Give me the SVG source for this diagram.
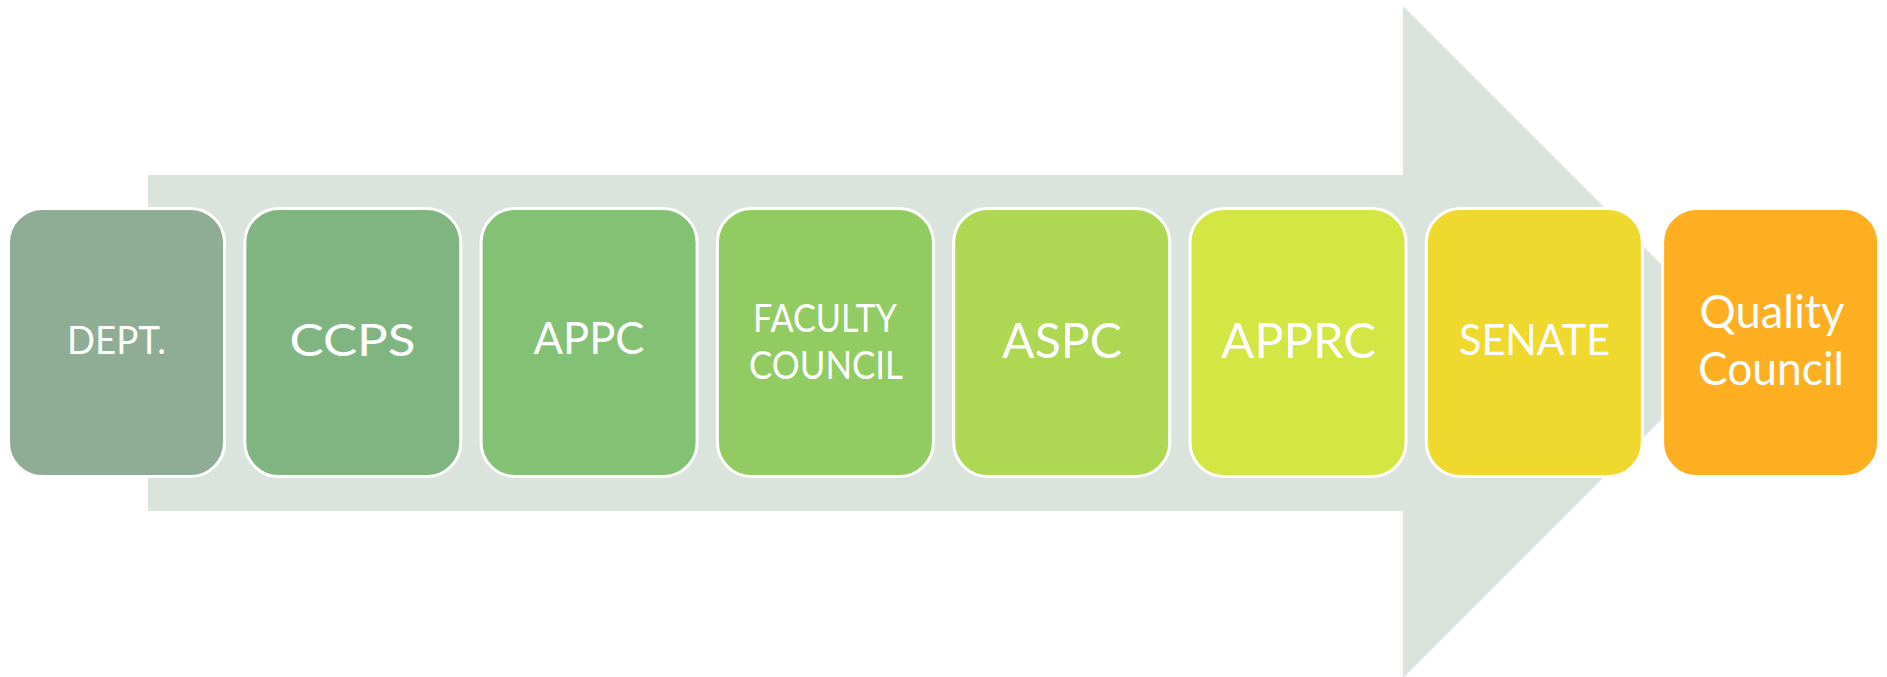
<svg xmlns="http://www.w3.org/2000/svg" width="1887" height="677" viewBox="0 0 1887 677">
<style>
.box{stroke:#ffffff;stroke-width:3}
.lbl{fill:#ffffff;font-family:Lato,"Open Sans","Liberation Sans",sans-serif;font-weight:400;text-anchor:middle}
</style>
<rect x="0" y="0" width="1887" height="677" fill="#ffffff"/>
<g id="connectors">
<polygon points="148,175 1403,175 1403,6 1739,342 1403,678 1403,511 148,511" fill="#DAE4DC"/>
</g>
<g id="node-dept">
<rect class="box" x="8.5" y="208.5" width="216" height="268" rx="34" fill="#8FAC94"/>
<text class="lbl" x="116.5" y="354" font-size="38" textLength="99" lengthAdjust="spacingAndGlyphs">DEPT.</text>
</g>
<g id="node-ccps">
<rect class="box" x="244.8" y="208.5" width="216" height="268" rx="34" fill="#80B582"/>
<text class="lbl" x="352.5" y="356" font-size="45" textLength="126" lengthAdjust="spacingAndGlyphs">CCPS</text>
</g>
<g id="node-appc">
<rect class="box" x="481.1" y="208.5" width="216" height="268" rx="34" fill="#83C174"/>
<text class="lbl" x="589" y="354" font-size="45" textLength="111" lengthAdjust="spacingAndGlyphs">APPC</text>
</g>
<g id="node-faculty-council">
<rect class="box" x="717.4" y="208.5" width="216" height="268" rx="34" fill="#93CB63"/>
<text class="lbl" x="825" y="332" font-size="38" textLength="144" lengthAdjust="spacingAndGlyphs">FACULTY</text>
<text class="lbl" x="826" y="379" font-size="38" textLength="154" lengthAdjust="spacingAndGlyphs">COUNCIL</text>
</g>
<g id="node-aspc">
<rect class="box" x="953.7" y="208.5" width="216" height="268" rx="34" fill="#AED853"/>
<text class="lbl" x="1062" y="358" font-size="49" textLength="120" lengthAdjust="spacingAndGlyphs">ASPC</text>
</g>
<g id="node-apprc">
<rect class="box" x="1190" y="208.5" width="216" height="268" rx="34" fill="#D4E644"/>
<text class="lbl" x="1298.5" y="358" font-size="49" textLength="155" lengthAdjust="spacingAndGlyphs">APPRC</text>
</g>
<g id="node-senate">
<rect class="box" x="1426.3" y="208.5" width="216" height="268" rx="34" fill="#EFD92F"/>
<text class="lbl" x="1534.5" y="355" font-size="42" textLength="151" lengthAdjust="spacingAndGlyphs">SENATE</text>
</g>
<g id="node-quality-council">
<rect class="box" x="1662.6" y="208.5" width="216" height="268" rx="34" fill="#FDAE21"/>
<text class="lbl" x="1772" y="328" font-size="47" textLength="145" lengthAdjust="spacingAndGlyphs">Quality</text>
<text class="lbl" x="1771" y="385" font-size="47" textLength="146" lengthAdjust="spacingAndGlyphs">Council</text>
</g>
</svg>
